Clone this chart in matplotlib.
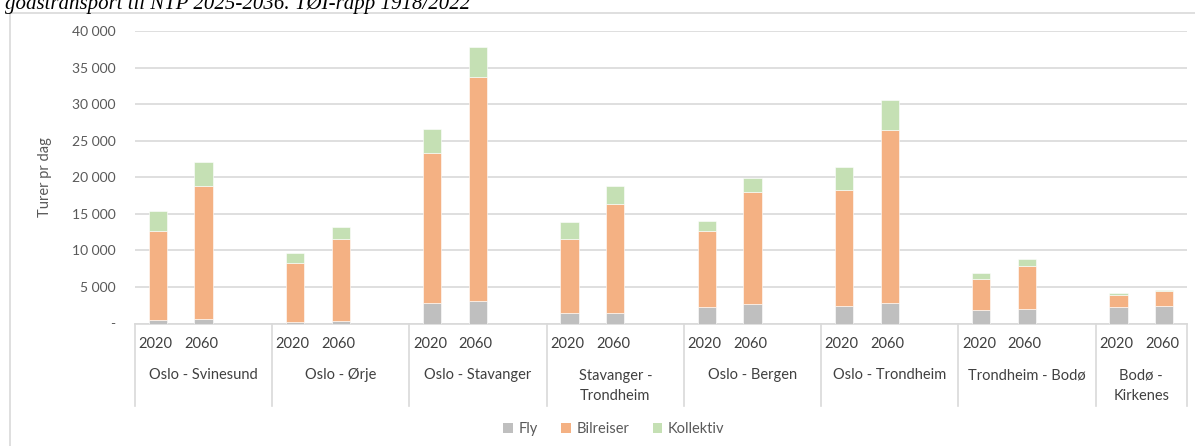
import matplotlib
matplotlib.use("Agg")
import matplotlib.pyplot as plt
from matplotlib.patches import Patch, Rectangle
from matplotlib.lines import Line2D
from matplotlib.ticker import FixedLocator, FuncFormatter

# Corridors and years
corridors = ["Oslo - Svinesund", "Oslo - Ørje", "Oslo - Stavanger", "Stavanger -\nTrondheim",
             "Oslo - Bergen", "Oslo - Trondheim", "Trondheim - Bodø", "Bodø -\nKirkenes"]
years = ["2020", "2060"]

# Trips per day, stacked per corridor: [2020, 2060]
fly = [[500, 550], [200, 300], [2750, 3100], [1400, 1500],
       [2300, 2650], [2450, 2850], [1850, 1950], [2250, 2450]]
bilreiser = [[12150, 18300], [8050, 11200], [20500, 30600], [10200, 14900],
             [10350, 15400], [15800, 23650], [4250, 5950], [1650, 1950]]
kollektiv = [[2750, 3250], [1400, 1650], [3300, 4050], [2250, 2450],
             [1300, 1900], [3150, 4100], [850, 900], [250, 150]]

series_names = ["Fly", "Bilreiser", "Kollektiv"]
colors = ["#BFBFBF", "#F4B183", "#C5E0B4"]
text_color = "#595959"
grid_color = "#D9D9D9"

W, H = 1195, 446
fig = plt.figure(figsize=(W / 100, H / 100), dpi=100)
plt.rcParams["font.family"] = ["Lato", "DejaVu Sans"]

# axes placement in pixels
left, right, bottom, top = 135, 1187, 323.5, 31
ax = fig.add_axes([left / W, 1 - bottom / H, (right - left) / W, (bottom - top) / H])

# slot positions: three slots per corridor (last one only two)
positions = []
slot = 0
for i, _ in enumerate(corridors):
    positions.append([slot, slot + 1])
    slot += 3 if i < len(corridors) - 1 else 2
n_slots = slot
bar_w = 0.4

for ci in range(len(corridors)):
    for yi in range(len(years)):
        x = positions[ci][yi]
        base = 0
        for vals, col in zip([fly, bilreiser, kollektiv], colors):
            v = vals[ci][yi]
            ax.bar(x, v, width=bar_w, bottom=base, color=col,
                   edgecolor="white", linewidth=0.4, zorder=3)
            base += v

ax.set_xlim(-0.5, n_slots - 0.5)
ax.set_ylim(0, 40000)
ax.yaxis.set_major_locator(FixedLocator(range(0, 40001, 5000)))


def fmt(v, _):
    if v == 0:
        return "-"
    return f"{int(v):,}".replace(",", " ")


ax.yaxis.set_major_formatter(FuncFormatter(fmt))
ax.tick_params(axis="y", length=0, pad=14, labelsize=10, labelcolor=text_color)
ax.set_xticks([])
ax.grid(axis="y", color=grid_color, linewidth=1.2, zorder=0)
for s in ["left", "right", "top"]:
    ax.spines[s].set_visible(False)
ax.spines["bottom"].set_color(grid_color)
ax.spines["bottom"].set_linewidth(1.2)

# category axis: year labels, corridor labels, dividers
from matplotlib.transforms import blended_transform_factory
tr = blended_transform_factory(ax.transData, fig.transFigure)


def fy(px):
    return 1 - px / H


for ci, name in enumerate(corridors):
    for yi, yr in enumerate(years):
        ax.text(positions[ci][yi] - 0.05, fy(344), yr, transform=tr, ha="center", va="center",
                fontsize=10.5, color="#404040")
    center = (positions[ci][0] + positions[ci][1] + (1 if ci < len(corridors) - 1 else 0)) / 2
    if "\n" in name:
        ax.text(center, fy(386), name, transform=tr, ha="center", va="center",
                fontsize=10.5, color="#404040", linespacing=1.55)
    else:
        ax.text(center, fy(375), name, transform=tr, ha="center", va="center",
                fontsize=10.5, color="#404040")

dividers = [-0.5] + [p[0] - 0.5 for p in positions[1:]] + [n_slots - 0.5]
for d in dividers:
    ax.add_line(Line2D([d, d], [fy(323.5), fy(406)], transform=tr, color=grid_color,
                       linewidth=1.2, clip_on=False))

# y-axis title
fig.text(45 / W, fy(177), "Turer pr dag", rotation=90, ha="center", va="center",
         fontsize=10.5, color=text_color)

# legend
handles = [Patch(facecolor=c, edgecolor="none") for c in colors]
fig.legend(handles, series_names, loc="center", bbox_to_anchor=(614 / W, fy(429)),
           ncol=3, frameon=False, fontsize=10.5, labelcolor=text_color,
           handlelength=0.65, handleheight=0.65, handletextpad=0.4, columnspacing=1.6)

# chart frame
fig.add_artist(Rectangle((10 / W, -0.1), 1.1, fy(13) + 0.1, transform=fig.transFigure,
                         fill=False, edgecolor=grid_color, linewidth=1.2))

# caption line above the chart
fig.text(5 / W, fy(9), "godstransport til NTP 2025-2036. TØI-rapp 1918/2022",
         ha="left", va="baseline", fontsize=15, style="italic",
         family="Liberation Serif", color="black")

fig.savefig("out.png", dpi=100)
